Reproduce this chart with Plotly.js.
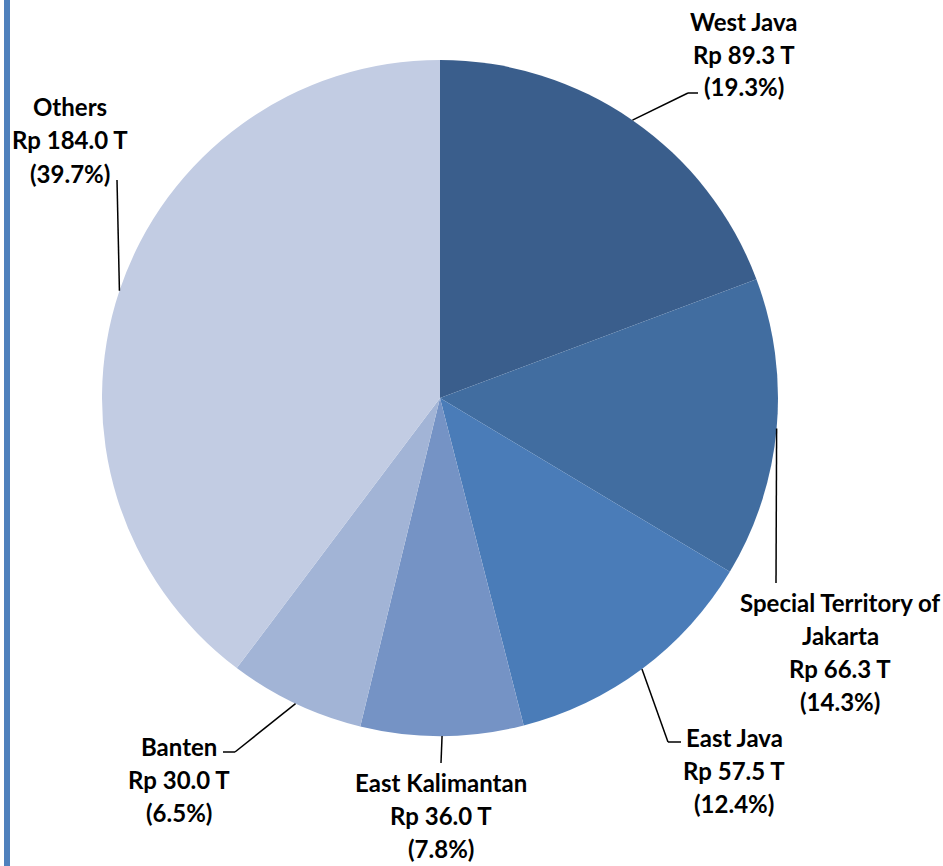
<!DOCTYPE html>
<html>
<head>
<meta charset="utf-8">
<script src="https://cdn.plot.ly/plotly-3.0.1.min.js"></script>
<style>html,body{margin:0;padding:0;background:#fff;}#chart{width:943px;height:866px;}</style>
</head>
<body>
<div id="chart"></div>
<script>
// ---- data ----
const regions = ["West Java", "Special Territory of Jakarta", "East Java", "East Kalimantan", "Banten", "Others"];
const labelLines = [["West Java"], ["Special Territory of", "Jakarta"], ["East Java"], ["East Kalimantan"], ["Banten"], ["Others"]];
const valuesT = [89.3, 66.3, 57.5, 36.0, 30.0, 184.0];
const percents = [19.3, 14.3, 12.4, 7.8, 6.5, 39.7];
const colors = ["#3A5E8C", "#416DA0", "#4A7CB8", "#7593C5", "#A2B4D6", "#C2CCE3"];

// ---- layout constants (pixels) ----
const W = 943, H = 866;
const pieBox = {x0: 102, x1: 778, y0: 60, y1: 736};
// label placement: elbow point, end point, text centre x, first line centre y
const labelPos = [
  {elbow: [688, 93], end: [698, 93], tx: 744, ty: 21},
  {elbow: null, end: [776, 583], tx: 840, ty: 602},
  {elbow: [668, 742], end: [681, 742], tx: 734, ty: 737},
  {elbow: null, end: [441, 763], tx: 441, ty: 782},
  {elbow: [235, 752], end: [223, 752], tx: 179, ty: 746},
  {elbow: null, end: [117, 180], tx: 70, ty: 107}
];
const lineGap = 33;

const px = x => x / W;
const py = y => 1 - y / H;

const cx = (pieBox.x0 + pieBox.x1) / 2, cy = (pieBox.y0 + pieBox.y1) / 2;
const R = Math.min(pieBox.x1 - pieBox.x0, pieBox.y1 - pieBox.y0) / 2;
const total = valuesT.reduce((a, b) => a + b, 0);

const shapes = [{
  type: "line", xref: "paper", yref: "paper",
  x0: px(7), x1: px(7), y0: 0, y1: 1,
  line: {color: "#4F81BD", width: 6}
}];
const annotations = [];
let cum = 0;
valuesT.forEach((v, i) => {
  const mid = (cum + v / 2) / total * 2 * Math.PI;
  cum += v;
  const ex = cx + R * Math.sin(mid), ey = cy - R * Math.cos(mid);
  const lp = labelPos[i];
  const pts = [[ex, ey]];
  if (lp.elbow) pts.push(lp.elbow);
  pts.push(lp.end);
  for (let k = 0; k < pts.length - 1; k++) {
    shapes.push({type: "line", xref: "paper", yref: "paper",
      x0: px(pts[k][0]), y0: py(pts[k][1]), x1: px(pts[k+1][0]), y1: py(pts[k+1][1]),
      line: {color: "#000", width: 1.5}});
  }
  const lines = labelLines[i].concat(["Rp " + v.toFixed(1) + " T", "(" + percents[i].toFixed(1) + "%)"]);
  lines.forEach((t, j) => {
    annotations.push({
      xref: "paper", yref: "paper", x: px(lp.tx), y: py(lp.ty + j * lineGap),
      xanchor: "center", yanchor: "middle", showarrow: false, text: t,
      font: {family: "Lato, 'Open Sans', sans-serif", size: 24, color: "#000", weight: 700}
    });
  });
});

const trace = {
  type: "pie",
  labels: regions,
  values: valuesT,
  sort: false,
  direction: "clockwise",
  rotation: 0,
  textinfo: "none",
  hoverinfo: "label+value+percent",
  marker: {colors: colors, line: {width: 0}},
  domain: {x: [pieBox.x0 / W, pieBox.x1 / W], y: [1 - pieBox.y1 / H, 1 - pieBox.y0 / H]}
};

Plotly.newPlot("chart", [trace], {
  width: W, height: H,
  margin: {l: 0, r: 0, t: 0, b: 0},
  paper_bgcolor: "#fff",
  showlegend: false,
  shapes: shapes,
  annotations: annotations
}, {displayModeBar: false, staticPlot: true});
</script>
</body>
</html>
